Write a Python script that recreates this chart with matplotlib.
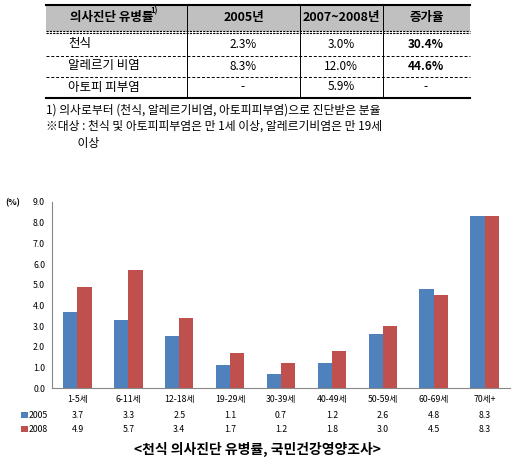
import matplotlib
matplotlib.use("Agg")
import matplotlib.pyplot as plt
from matplotlib.lines import Line2D
from matplotlib.patches import Rectangle
import numpy as np

plt.rcParams["font.family"] = ["Noto Sans CJK KR", "DejaVu Sans"]

# table data
col_headers = ["2005년", "2007~2008년", "증가율"]
row_names = ["천식", "알레르기 비염", "아토피 피부염"]
rate_2005 = ["2.3%", "8.3%", "-"]
rate_2008 = ["3.0%", "12.0%", "5.9%"]
increase = ["30.4%", "44.6%", "-"]
notes = [
    "1) 의사로부터 (천식, 알레르기비염, 아토피피부염)으로 진단받은 분율",
    "※대상 : 천식 및 아토피피부염은 만 1세 이상, 알레르기비염은 만 19세",
    "            이상",
]

# chart data
age_groups = ["1-5세", "6-11세", "12-18세", "19-29세", "30-39세",
              "40-49세", "50-59세", "60-69세", "70세+"]
years = ["2005", "2008"]
val_2005 = [3.7, 3.3, 2.5, 1.1, 0.7, 1.2, 2.6, 4.8, 8.3]
val_2008 = [4.9, 5.7, 3.4, 1.7, 1.2, 1.8, 3.0, 4.5, 8.3]
caption = "<천식 의사진단 유병률, 국민건강영양조사>"

W, H = 515, 467
BLUE, RED = "#4F81BD", "#C0504D"
FS = 6.3

fig = plt.figure(figsize=(W / 100, H / 100), dpi=100)


def fx(x):
    return x / W


def fy(y):
    return 1 - y / H


def hline(x0, x1, y, **kw):
    fig.add_artist(Line2D([fx(x0), fx(x1)], [fy(y), fy(y)], transform=fig.transFigure, **kw))


def vline(x, y0, y1, **kw):
    fig.add_artist(Line2D([fx(x), fx(x)], [fy(y0), fy(y1)], transform=fig.transFigure, **kw))


# --- table ---
tl, tr = 46, 470
cols = [tl, 187, 300, 383, tr]
fig.add_artist(Rectangle((fx(tl), fy(31)), fx(tr - tl), fy(5) - fy(31),
                         transform=fig.transFigure, facecolor="#c0c0c0", edgecolor="none"))
hline(tl, tr, 5, color="black", lw=1.5)
hline(tl, tr, 31, color="black", lw=0.8, ls=(0, (2, 1)))
hline(tl, tr, 33, color="black", lw=0.8, ls=(0, (2, 1)))
hline(tl, tr, 56, color="black", lw=0.7, ls=(0, (3, 2)))
hline(tl, tr, 77, color="black", lw=0.7, ls=(0, (3, 2)))
hline(tl, tr, 98, color="black", lw=1.5)
for c in cols[1:-1]:
    vline(c, 5, 98, color="black", lw=0.7)

fig.text(fx(112), fy(17), "의사진단 유병률", ha="center", va="center",
         fontsize=9, fontweight="bold")
fig.text(fx(150), fy(11), "1)", ha="left", va="center", fontsize=5.5, fontweight="bold")
for i, h in enumerate(col_headers):
    fig.text(fx((cols[i + 1] + cols[i + 2]) / 2), fy(17), h, ha="center", va="center",
             fontsize=9, fontweight="bold")
row_y = [44, 66, 87]
for i, name in enumerate(row_names):
    fig.text(fx(68), fy(row_y[i]), name, ha="left", va="center", fontsize=9)
    fig.text(fx(243), fy(row_y[i]), rate_2005[i], ha="center", va="center", fontsize=8.5)
    fig.text(fx(341), fy(row_y[i]), rate_2008[i], ha="center", va="center", fontsize=8.5)
    fig.text(fx(426), fy(row_y[i]), increase[i], ha="center", va="center", fontsize=8.5,
             fontweight="bold" if increase[i] != "-" else "normal")
for i, t in enumerate(notes):
    fig.text(fx(46), fy(110 + 16.5 * i), t, ha="left", va="center", fontsize=8.5)

# --- bar chart ---
ax_l, ax_r, ax_t, ax_b = 52, 510, 202, 388
ax = fig.add_axes([fx(ax_l), fy(ax_b), fx(ax_r - ax_l), fy(ax_t) - fy(ax_b)])
x = np.arange(len(age_groups))
bw = 0.28
ax.bar(x - bw / 2, val_2005, bw, color=BLUE)
ax.bar(x + bw / 2, val_2008, bw, color=RED)
ax.set_xlim(-0.5, len(age_groups) - 0.5)
ax.set_ylim(0, 9)
ax.set_yticks(np.arange(0, 9.1, 1))
ax.set_yticklabels([f"{v:.1f}" for v in np.arange(0, 9.1, 1)], fontsize=FS)
ax.set_xticks(x)
ax.set_xticklabels(age_groups, fontsize=FS)
ax.tick_params(axis="both", length=0, pad=5)
for s in ["top", "right"]:
    ax.spines[s].set_visible(False)
for s in ["left", "bottom"]:
    ax.spines[s].set_color("#888888")
    ax.spines[s].set_linewidth(0.8)
fig.text(fx(5), fy(203), "(%)", fontsize=FS, fontweight="bold", va="center")

# data table below the chart
for j, (yr, vals, col) in enumerate(zip(years, [val_2005, val_2008], [BLUE, RED])):
    yy = 415 + 14 * j
    fig.add_artist(Rectangle((fx(21), fy(yy + 3)), fx(7), fy(yy - 3) - fy(yy + 3),
                             transform=fig.transFigure, facecolor=col))
    fig.text(fx(29), fy(yy), yr, fontsize=FS, va="center")
    for k, v in enumerate(vals):
        xp = ax_l + (k + 0.5) * (ax_r - ax_l) / len(age_groups)
        fig.text(fx(xp), fy(yy), f"{v:.1f}", fontsize=FS, ha="center", va="center")

fig.text(0.5, fy(449), caption, ha="center", va="center", fontsize=10, fontweight="bold")

fig.savefig("out.png", dpi=100)
